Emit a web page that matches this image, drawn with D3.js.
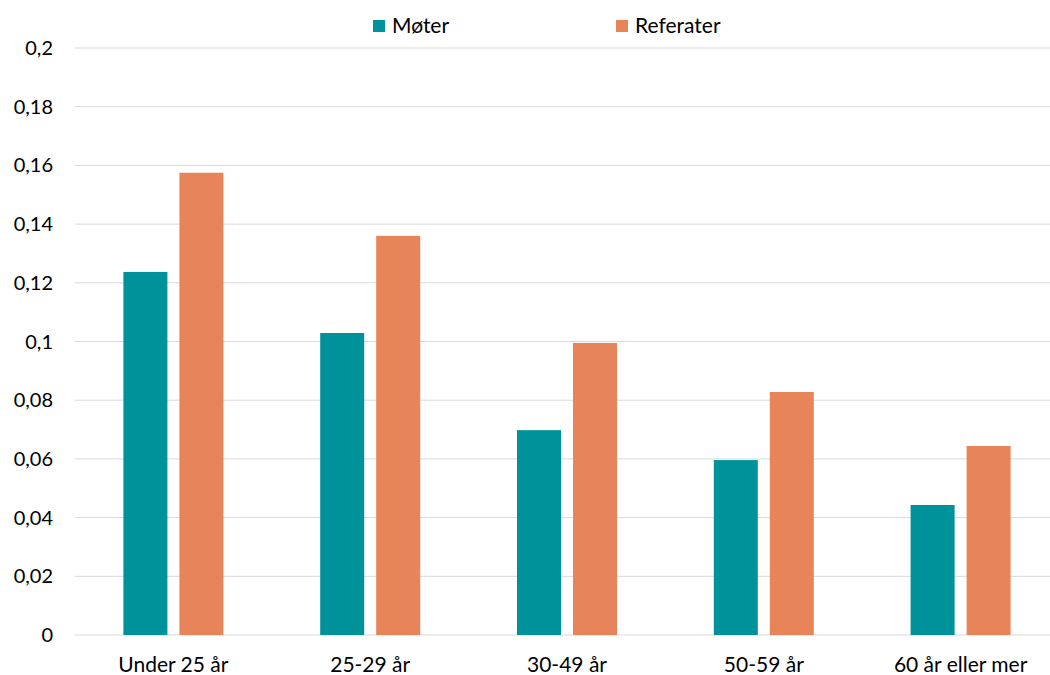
<!DOCTYPE html>
<html>
<head>
<meta charset="utf-8">
<script src="https://cdn.jsdelivr.net/npm/d3@7"></script>
<style>
  body { margin: 0; background: #fff; }
  text { font-family: Lato, "Open Sans", sans-serif; fill: #000; }
</style>
</head>
<body>
<div id="chart"></div>
<script>
const categories = ["Under 25 år", "25-29 år", "30-49 år", "50-59 år", "60 år eller mer"];
const seriesNames = ["Møter", "Referater"];
const moter = [0.1237, 0.1029, 0.0698, 0.0596, 0.0443];
const referater = [0.1575, 0.1360, 0.0995, 0.0828, 0.0644];
const yTicks = [0, 0.02, 0.04, 0.06, 0.08, 0.1, 0.12, 0.14, 0.16, 0.18, 0.2];
const colors = ["#00929a", "#e8845a"];

const width = 1050, height = 675;
const svg = d3.select("#chart").append("svg")
    .attr("width", width)
    .attr("height", height);

const x = d3.scaleBand()
    .domain(categories)
    .range([75, 1059]);

const y = d3.scaleLinear()
    .domain([0, 0.2])
    .range([635, 48]);

// gridlines
svg.append("g")
    .selectAll("line")
    .data(yTicks)
    .enter().append("line")
    .attr("x1", 75)
    .attr("x2", width)
    .attr("y1", d => y(d))
    .attr("y2", d => y(d))
    .attr("stroke", "#d9d9d9")
    .attr("stroke-width", 1);

// y tick labels
const fmt = d => String(d).replace(".", ",");
svg.append("g")
    .selectAll("text")
    .data(yTicks)
    .enter().append("text")
    .attr("x", 53)
    .attr("y", d => y(d))
    .attr("dy", "0.35em")
    .attr("text-anchor", "end")
    .style("font-size", "20px")
    .text(fmt);

// bars
const barW = 44, gap = 12;
const series = [moter, referater];
series.forEach(function(vals, s) {
    svg.append("g")
        .selectAll("rect")
        .data(vals)
        .enter().append("rect")
        .attr("x", (d, i) => {
            const c = x(categories[i]) + x.bandwidth() / 2;
            return s === 0 ? c - gap / 2 - barW : c + gap / 2;
        })
        .attr("y", d => y(d))
        .attr("width", barW)
        .attr("height", d => y(0) - y(d))
        .attr("fill", colors[s]);
});

// x labels
svg.append("g")
    .selectAll("text")
    .data(categories)
    .enter().append("text")
    .attr("x", d => x(d) + x.bandwidth() / 2)
    .attr("y", 672)
    .attr("text-anchor", "middle")
    .style("font-size", "21px")
    .text(d => d);

// legend
const legendX = [373, 616];
const legend = svg.append("g");
seriesNames.forEach(function(name, i) {
    legend.append("rect")
        .attr("x", legendX[i])
        .attr("y", 20)
        .attr("width", 12)
        .attr("height", 12)
        .attr("fill", colors[i]);
    legend.append("text")
        .attr("x", legendX[i] + 19)
        .attr("y", 26)
        .attr("dy", "0.35em")
        .style("font-size", "21px")
        .text(name);
});
</script>
</body>
</html>
